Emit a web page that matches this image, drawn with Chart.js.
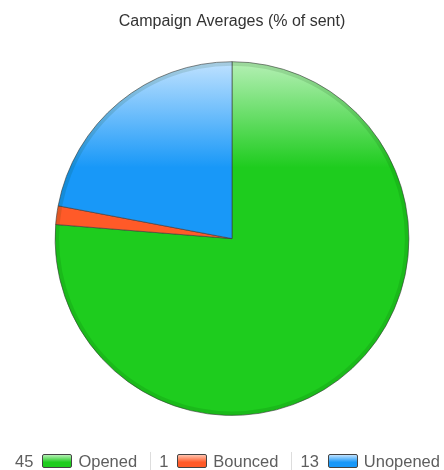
<!DOCTYPE html>
<html>
<head>
<meta charset="utf-8">
<script src="https://cdn.jsdelivr.net/npm/chart.js@4/dist/chart.umd.min.js"></script>
<style>
    html, body { margin: 0; padding: 0; background: #fff; }
    #wrap { position: relative; width: 444px; height: 470px; }
    #legend {
        position: absolute; left: 8px; top: 451px; width: 444px; height: 20px;
        display: flex; justify-content: center; align-items: center;
        font-family: Arial, "Liberation Sans", sans-serif; font-size: 16.5px; color: #5e5e5e;
    }
    #legend .item { display: flex; align-items: center; padding: 0 13px 0 8px; border-left: 1px solid #ddd; }
    #legend .item:first-child { border-left: none; }
    #legend .box { width: 28px; height: 12px; margin: 0 6px 0 9px; border: 1px solid #444; border-radius: 2px; }
</style>
</head>
<body>
<div id="wrap">
    <canvas id="chartPie" width="444" height="470"></canvas>
    <div id="legend"></div>
</div>
<script>
// Médias da campanha, % dos enviados
const categorias = ['Opened', 'Bounced', 'Unopened'];
const valores = [45, 1, 13];
const cores = ['#1ecc1e', '#ff5a28', '#1898f8'];
const coresClaras = ['#b6f0b6', '#ffc4b0', '#c0e2ff'];

function gradiente(context) {
    const chart = context.chart;
    const area = chart.chartArea;
    if (!area) return cores[context.dataIndex];
    const g = chart.ctx.createLinearGradient(0, area.top, 0, area.bottom);
    g.addColorStop(0, coresClaras[context.dataIndex]);
    g.addColorStop(0.3, cores[context.dataIndex]);
    g.addColorStop(1, cores[context.dataIndex]);
    return g;
}

// aro escuro na borda da pizza
const aro = {
    id: 'aro',
    afterDatasetsDraw(chart) {
        const arc = chart.getDatasetMeta(0).data[0];
        if (!arc) return;
        const ctx = chart.ctx;
        ctx.save();
        ctx.beginPath();
        ctx.arc(arc.x, arc.y, arc.outerRadius - 2, 0, Math.PI * 2);
        ctx.strokeStyle = 'rgba(0,60,0,0.12)';
        ctx.lineWidth = 4;
        ctx.stroke();
        ctx.restore();
    }
};

const configPie = document.getElementById('chartPie');

new Chart(configPie, {
    type: 'pie',
    data: {
        labels: categorias,
        datasets: [{
            data: valores,
            backgroundColor: gradiente,
            borderColor: 'rgba(60,60,60,0.6)',
            borderWidth: 1
        }]
    },
    options: {
        responsive: false,
        animation: false,
        layout: {
            padding: { left: 53, right: 33, top: 0, bottom: 54 }
        },
        plugins: {
            legend: { display: false },
            tooltip: { enabled: false },
            title: {
                display: true,
                text: 'Campaign Averages (% of sent)',
                color: '#333',
                font: { family: 'Arial, "Liberation Sans", sans-serif', size: 16, weight: 'normal' },
                padding: { top: 12, bottom: 30 }
            }
        }
    },
    plugins: [aro]
});

// legenda: valor, caixa de cor e nome
const legenda = document.getElementById('legend');
categorias.forEach(function (nome, i) {
    const item = document.createElement('div');
    item.className = 'item';
    const box = '<span class="box" style="background: linear-gradient(' + coresClaras[i] + ',' + cores[i] + ' 60%)"></span>';
    item.innerHTML = '<span>' + valores[i] + '</span>' + box + '<span>' + nome + '</span>';
    legenda.appendChild(item);
});
</script>
</body>
</html>
